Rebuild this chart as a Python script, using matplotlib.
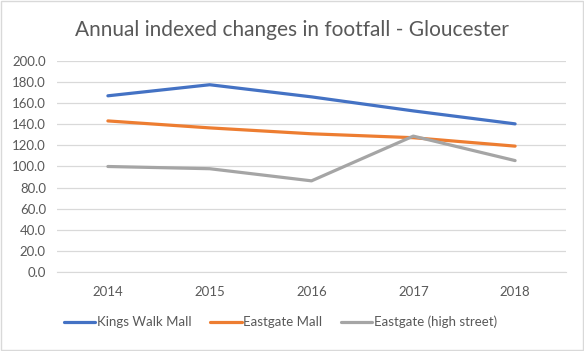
import matplotlib
matplotlib.use("Agg")
import matplotlib.pyplot as plt
from matplotlib.patches import Rectangle

years = ["2014", "2015", "2016", "2017", "2018"]
kings_walk = [167.0, 177.5, 166.0, 152.7, 140.4]
eastgate_mall = [143.2, 136.6, 131.0, 127.3, 119.3]
eastgate_high = [100.0, 97.9, 86.4, 128.8, 105.6]
yticks = [0, 20, 40, 60, 80, 100, 120, 140, 160, 180, 200]

plt.rcParams['font.family'] = ['Lato', 'DejaVu Sans']

fig = plt.figure(figsize=(5.84, 3.51), dpi=100)
ax = fig.add_axes([57/584, 79/351, 509/584, 211/351])

x = list(range(len(years)))
ax.plot(x, kings_walk, color="#4472C4", lw=2.3, label="Kings Walk Mall", solid_capstyle="round")
ax.plot(x, eastgate_mall, color="#ED7D31", lw=2.3, label="Eastgate Mall", solid_capstyle="round")
ax.plot(x, eastgate_high, color="#A5A5A5", lw=2.3, label="Eastgate (high street)", solid_capstyle="round")

ax.set_xlim(-0.5, 4.5)
ax.set_ylim(0, 200)
ax.set_yticks(yticks)
ax.set_yticklabels([f"{v:.1f}" for v in yticks])
ax.set_xticks(x)
ax.set_xticklabels(years)
ax.grid(axis="y", color="#D9D9D9", lw=0.9)
ax.set_axisbelow(True)
for s in ["top", "right", "left"]:
    ax.spines[s].set_visible(False)
ax.spines["bottom"].set_color("#D9D9D9")
ax.tick_params(axis="both", length=0, colors="#595959", labelsize=9.5)
ax.tick_params(axis="y", pad=8)
ax.tick_params(axis="x", pad=10)

fig.text(0.5, 0.915, "Annual indexed changes in footfall - Gloucester", ha="center", va="center",
         fontsize=15, color="#595959")

leg = fig.legend(loc="center", bbox_to_anchor=(0.48, 0.083), ncol=3, frameon=False,
                 fontsize=9.5, handlelength=2.4, handletextpad=0.12, columnspacing=1.4)
for t in leg.get_texts():
    t.set_color("#595959")

fig.patches.append(Rectangle((0.001, 0.002), 0.997, 0.995, transform=fig.transFigure,
                             fill=False, edgecolor="#D9D9D9", lw=1))

fig.savefig("out.png", dpi=100, facecolor="white")
